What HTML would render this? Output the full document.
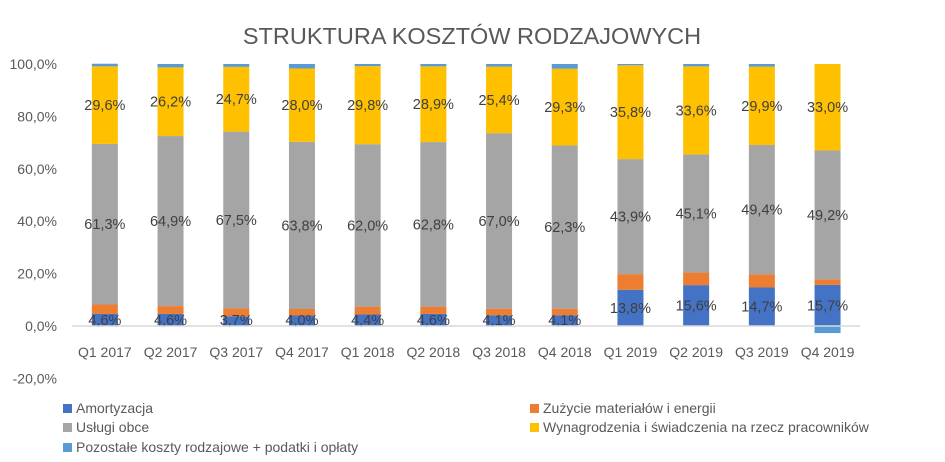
<!DOCTYPE html>
<html><head><meta charset="utf-8"><style>
body{margin:0;background:#fff;}
svg text{font-family:"Liberation Sans",sans-serif;}
</style></head><body>
<svg width="945" height="457" viewBox="0 0 945 457">
<text x="472" y="44" text-anchor="middle" font-size="23.5" fill="#595959">STRUKTURA KOSZTÓW RODZAJOWYCH</text>
<g id="yaxis"></g><g id="bars"></g><g id="labels"></g><g id="xaxis"></g><g id="legend"></g>
</svg>
<script>
const categories=["Q1 2017","Q2 2017","Q3 2017","Q4 2017","Q1 2018","Q2 2018","Q3 2018","Q4 2018","Q1 2019","Q2 2019","Q3 2019","Q4 2019"];
const amortyzacja=[4.6,4.6,3.7,4.0,4.4,4.6,4.1,4.1,13.8,15.6,14.7,15.7];
const zuzycie=[3.6,3.0,3.0,2.5,3.0,2.8,2.5,2.5,6.0,4.8,5.0,2.1];
const uslugi=[61.3,64.9,67.5,63.8,62.0,62.8,67.0,62.3,43.9,45.1,49.4,49.2];
const wynagrodzenia=[29.6,26.2,24.7,28.0,29.8,28.9,25.4,29.3,35.8,33.6,29.9,33.0];
const pozostale=[1.0,1.3,1.1,1.7,0.8,0.9,1.0,1.8,0.5,0.9,1.0,-2.7];
const yTicks=[-20,0,20,40,60,80,100];
const seriesNames=["Amortyzacja","Zużycie materiałów i energii","Usługi obce","Wynagrodzenia i świadczenia na rzecz pracowników","Pozostałe koszty rodzajowe + podatki i opłaty"];
const NS="http://www.w3.org/2000/svg";
const plotL=72,step=65.7,barW=26;
const y=v=>326-v*2.62;
const x=i=>plotL+step*(i+0.5);
function mk(tag,attrs,parent,txt){const e=document.createElementNS(NS,tag);for(const k in attrs)e.setAttribute(k,attrs[k]);if(txt!==undefined)e.textContent=txt;parent.appendChild(e);return e;}
const gy=document.getElementById('yaxis'),gb=document.getElementById('bars'),gl=document.getElementById('labels'),gx=document.getElementById('xaxis'),gL=document.getElementById('legend');
yTicks.forEach(t=>{
 const e=mk('text',{x:57,y:y(t)+5,'text-anchor':'end','font-size':14,fill:'#595959'},gy,t.toFixed(1).replace('.',',')+'%');
 
 
});
const ax=mk('line',{x1:plotL,x2:plotL+step*12,y1:y(0),y2:y(0),stroke:'#d9d9d9','stroke-width':1.5},gx);


const colors=["#4472c4","#ed7d31","#a5a5a5","#ffc000","#5b9bd5"];
const series=[amortyzacja,zuzycie,uslugi,wynagrodzenia,pozostale];
const keys=["amortyzacja","zuzycie","uslugi","wynagrodzenia","pozostale"];
categories.forEach((c,i)=>{
 let pos=0;
 series.forEach((s,k)=>{
  const v=s[i];let a,b;
  if(v>=0){a=pos;b=pos+v;pos=b;}else{a=v;b=0;}
  const r=mk('rect',{x:x(i)-barW/2,y:y(b),width:barW,height:y(a)-y(b),fill:colors[k]},gb);
  
  
  if(k!==1&&k!==4){
   let ly=(y(a)+y(b))/2+5;
   if(k===0&&v<8) ly=y(0)-1;
   const t=mk('text',{x:x(i),y:ly,'text-anchor':'middle','font-size':14.5,fill:'#404040'},gl,v.toFixed(1).replace('.',',')+'%');
   
   
  }
 });
 const t=mk('text',{x:x(i),y:357,'text-anchor':'middle','font-size':14,fill:'#595959'},gx,c);
 
 
});
const legPos=[[63,413],[530,413],[63,432],[530,432],[63,452]];
seriesNames.forEach((n,k)=>{
 const [lx,ly]=legPos[k];
 const m=mk('rect',{x:lx,y:ly-9,width:9,height:9,fill:colors[k]},gL);
 
 
 const t=mk('text',{x:lx+13,y:ly,'font-size':14,fill:'#595959'},gL,n);
 
 
});
</script>
</body></html>
